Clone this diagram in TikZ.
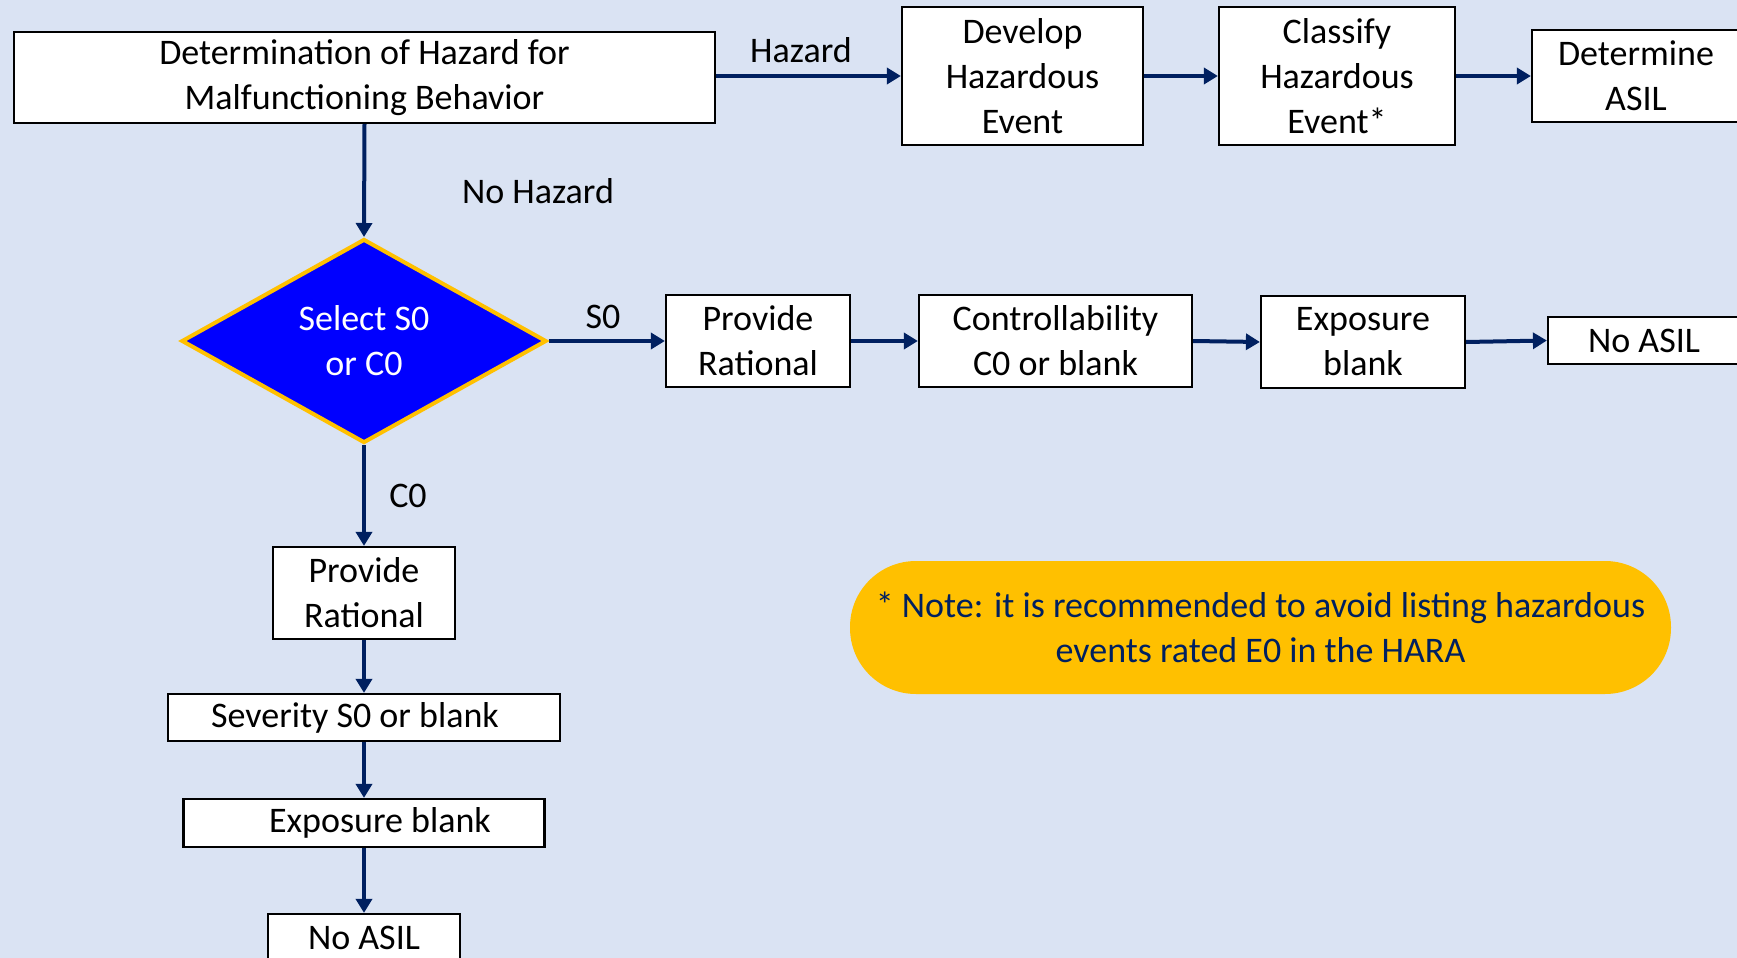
\documentclass[tikz,border=0pt]{standalone}
\usepackage{fontspec}
\setmainfont{Carlito}
\usetikzlibrary{shapes.geometric,arrows.meta}
\definecolor{bgblue}{HTML}{DAE3F3}
\definecolor{navy}{HTML}{002060}
\definecolor{gold}{HTML}{FFC000}
\definecolor{pureblue}{HTML}{0000FF}
\begin{document}
\begin{tikzpicture}[x=0.5pt,y=-0.5pt,
  txt/.style={font=\fontsize{18}{22.5}\selectfont},
  box/.style={txt,draw=black,line width=1.1pt,fill=white,align=center,inner sep=0pt},
  lbl/.style={txt,inner sep=0pt},
  flow/.style={draw=navy,line width=2pt,-{Triangle[length=7pt,width=8pt]}}]
% canvas
\clip (0,0) rectangle (1737,958);
\fill[bgblue] (0,0) rectangle (1737,958);

% hazard path (top row)
\node[box,minimum width=350.5pt,minimum height=45.5pt] (top) at (364.5,77.5)
  {Determination of Hazard for\\Malfunctioning Behavior};
\node[box,minimum width=120.5pt,minimum height=69pt] (develop) at (1022.5,76)
  {Develop\\Hazardous\\Event};
\node[box,minimum width=118pt,minimum height=69pt] (classify) at (1337,76)
  {Classify\\Hazardous\\Event*};
\node[box,minimum width=104pt,minimum height=46pt] (determine) at (1636,76)
  {Determine\\ASIL};

% decision
\node[diamond,draw=gold,line width=2pt,fill=pureblue,minimum width=182.5pt,
  minimum height=102pt,inner sep=0pt,text=white,align=center,txt] (dec) at (364,341)
  {Select S0\\or C0};

% S0 branch (middle row)
\node[box,minimum width=92pt,minimum height=46pt] (prov1) at (758,341)
  {Provide\\Rational};
\node[box,minimum width=136.5pt,minimum height=46pt] (ctrl) at (1055.5,341)
  {Controllability\\C0 or blank};
\node[box,minimum width=102pt,minimum height=46pt] (exp1) at (1363,342)
  {Exposure\\blank};
\node[box,minimum width=96pt,minimum height=23.5pt] (noasil1) at (1644,340.5)
  {No ASIL};

% C0 branch (left column)
\node[box,minimum width=91pt,minimum height=46pt] (prov2) at (364,593)
  {Provide\\Rational};
\node[box,minimum width=196pt,minimum height=23.5pt] (sev) at (364,717.5)
  {Severity S0 or blank\hspace*{9pt}};
\node[box,minimum width=180.5pt,minimum height=24pt] (exp2) at (364,823)
  {\hspace*{16pt}Exposure blank};
\node[box,minimum width=96pt,minimum height=23.5pt] (noasil2) at (364,937.5)
  {No ASIL};

% note
\node[fill=gold,rounded corners=33pt,minimum width=410.5pt,minimum height=66.5pt,
  text=navy,align=center,inner sep=0pt,txt] (note) at (1260.5,627.5)
  {* Note: it is recommended to avoid listing hazardous\\events rated E0 in the HARA};

% connectors
\draw[flow] (develop.west -| top.east) -- (develop.west);
\draw[flow] (develop.east) -- (classify.west);
\draw[flow] (classify.east) -- (determine.west);
\draw[flow] (top.south) -- (dec.north);
\draw[flow] (dec.east) -- (prov1.west);
\draw[flow] (prov1.east) -- (ctrl.west);
\draw[flow] (ctrl.east) -- (exp1.west);
\draw[flow] (exp1.east) -- (noasil1.west);
\draw[flow] (dec.south) -- (prov2.north);
\draw[flow] (prov2.south) -- (sev.north);
\draw[flow] (sev.south) -- (exp2.north);
\draw[flow] (exp2.south) -- (noasil2.north);

% edge labels
\node[lbl] (lhaz) at (801,50) {Hazard};
\node[lbl] (lnohaz) at (538,191) {No Hazard};
\node[lbl] (ls0) at (603,317) {S0};
\node[lbl] (lc0) at (408,496) {C0};
\end{tikzpicture}
\end{document}
